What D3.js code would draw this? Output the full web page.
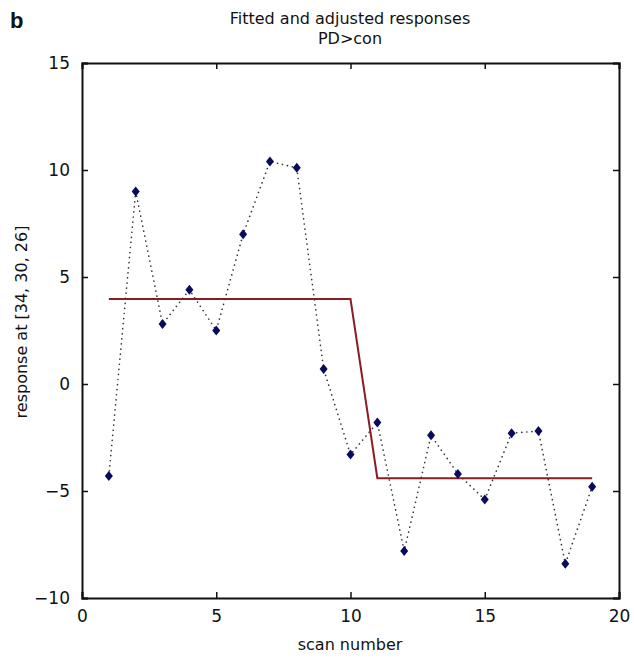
<!DOCTYPE html>
<html>
<head>
<meta charset="utf-8">
<script src="https://cdn.jsdelivr.net/npm/d3@7"></script>
<style>
  body { margin: 0; background: #fff; }
  text { font-family: "DejaVu Sans", Verdana, sans-serif; fill: #111; }
</style>
</head>
<body>
<svg id="chart"></svg>
<script>
let width = 634;
let height = 660;
let margin = {top: 63, right: 15, bottom: 62, left: 82};

// scan numbers and adjusted responses
let scans = [1, 2, 3, 4, 5, 6, 7, 8, 9, 10, 11, 12, 13, 14, 15, 16, 17, 18, 19];
let responses = [-4.3, 9.0, 2.8, 4.4, 2.5, 7.0, 10.4, 10.1, 0.7, -3.3, -1.8, -7.8, -2.4, -4.2, -5.4, -2.3, -2.2, -8.4, -4.8];
// fitted response (two levels)
let fitted = [3.97, 3.97, 3.97, 3.97, 3.97, 3.97, 3.97, 3.97, 3.97, 3.97, -4.4, -4.4, -4.4, -4.4, -4.4, -4.4, -4.4, -4.4, -4.4];

let xTicks = [0, 5, 10, 15, 20];
let yTicks = [-10, -5, 0, 5, 10, 15];

let svg = d3.select("#chart")
    .attr("width", width)
    .attr("height", height);

let x = d3.scaleLinear().domain([0, 20]).range([margin.left, width - margin.right]);
let y = d3.scaleLinear().domain([-10, 15]).range([height - margin.bottom, margin.top]);

let fmt = d => d < 0 ? "\u2212" + Math.abs(d) : String(d);

// axes with inward ticks on all four sides
svg.append("g")
    .attr("transform", `translate(0,${y(-10)})`)
    .call(d3.axisBottom(x).tickValues(xTicks).tickSize(-6).tickPadding(12).tickFormat(fmt))
    .call(g => g.selectAll("text").attr("dy", "0.71em").style("font-size", "17px"));

svg.append("g")
    .attr("transform", `translate(0,${y(15)})`)
    .call(d3.axisTop(x).tickValues(xTicks).tickSize(-6).tickFormat(""));

svg.append("g")
    .attr("transform", `translate(${x(0)},0)`)
    .call(d3.axisLeft(y).tickValues(yTicks).tickSize(-6).tickPadding(12).tickFormat(fmt))
    .call(g => g.selectAll("text").style("font-size", "17px"));

svg.append("g")
    .attr("transform", `translate(${x(20)},0)`)
    .call(d3.axisRight(y).tickValues(yTicks).tickSize(-6).tickFormat(""));

svg.selectAll(".domain").attr("stroke", "#111").attr("stroke-width", 2);
svg.selectAll(".tick line").attr("stroke", "#111").attr("stroke-width", 1.5);
svg.selectAll(".tick text").attr("fill", "#111").style("font-family", "DejaVu Sans, sans-serif");

// dotted line through the adjusted responses
let line = d3.line()
    .x((d, i) => x(scans[i]))
    .y(d => y(d));

svg.append("path")
    .datum(responses)
    .attr("d", line)
    .attr("fill", "none")
    .attr("stroke", "#333")
    .attr("stroke-width", 1.6)
    .attr("stroke-linecap", "round")
    .attr("stroke-dasharray", "0.1 5");

// fitted line
svg.append("path")
    .datum(fitted)
    .attr("d", d3.line().x((d, i) => x(scans[i])).y(d => y(d)))
    .attr("fill", "none")
    .attr("stroke", "#8b1c24")
    .attr("stroke-width", 2);

// markers
svg.selectAll(".pt")
    .data(responses)
    .enter()
    .append("path")
    .attr("class", "pt")
    .attr("transform", (d, i) => `translate(${x(scans[i])},${y(d)})`)
    .attr("d", "M0,-5L4,0L0,5L-4,0Z")
    .attr("fill", "#0a0a5c");

// titles
svg.append("text")
    .attr("x", 350).attr("y", 24)
    .attr("text-anchor", "middle")
    .style("font-size", "16px")
    .text("Fitted and adjusted responses");

svg.append("text")
    .attr("x", 350).attr("y", 44)
    .attr("text-anchor", "middle")
    .style("font-size", "16px")
    .text("PD>con");

svg.append("text")
    .attr("x", 10).attr("y", 28)
    .style("font-size", "22px")
    .style("font-weight", "bold")
    .style("font-family", "Liberation Sans, Arial, sans-serif")
    .text("b");

svg.append("text")
    .attr("x", 350).attr("y", 650)
    .attr("text-anchor", "middle")
    .style("font-size", "16px")
    .text("scan number");

svg.append("text")
    .attr("transform", "translate(27,322) rotate(-90)")
    .attr("text-anchor", "middle")
    .style("font-size", "16px")
    .text("response at [34, 30, 26]");
</script>
</body>
</html>
